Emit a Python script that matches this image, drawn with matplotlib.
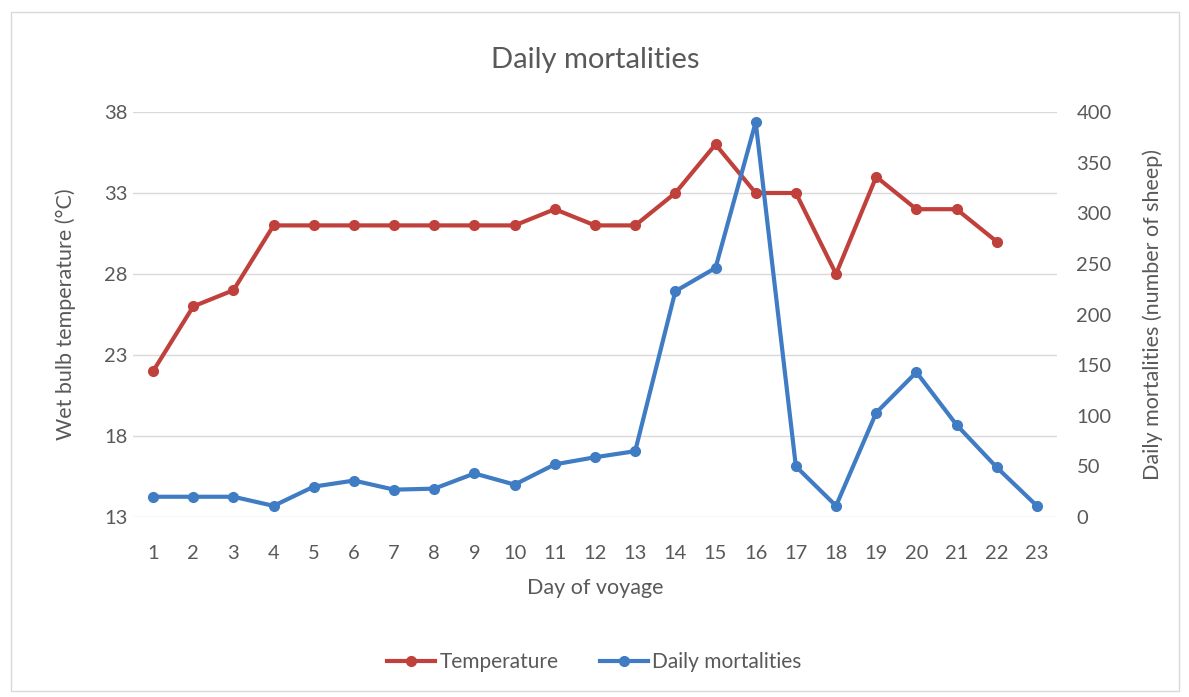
import matplotlib.pyplot as plt
from matplotlib.patches import Rectangle

plt.rcParams['font.family'] = ['Lato', 'DejaVu Sans']

days = list(range(1, 24))
temperature = [22, 26, 27, 31, 31, 31, 31, 31, 31, 31, 32, 31, 31, 33, 36, 33, 33, 28, 34, 32, 32, 30, None]
mortalities = [20, 20, 20, 11, 30, 36, 27, 28, 43, 32, 52, 59, 65, 223, 246, 390, 50, 11, 103, 143, 91, 49, 11]

temp_ticks = [13, 18, 23, 28, 33, 38]
mort_ticks = [0, 50, 100, 150, 200, 250, 300, 350, 400]

red = '#c0403c'
blue = '#3f7cc4'
grey_text = '#595959'

fig = plt.figure(figsize=(11.89, 6.97), dpi=100)
fig.patches.append(Rectangle((0.009, 0.008), 0.983, 0.975, transform=fig.transFigure,
                             fill=False, edgecolor='#d9d9d9', linewidth=1))

# axes box in pixel units: x 133..1057, y 112..517 (from top)
ax = fig.add_axes([133 / 1189, 1 - 517 / 697, 924 / 1189, 405 / 697])
ax2 = ax.twinx()

t_days = [d for d, t in zip(days, temperature) if t is not None]
t_vals = [t for t in temperature if t is not None]
l1, = ax.plot(t_days, t_vals, color=red, linewidth=3, marker='o', markersize=7, label='Temperature', zorder=3)
l2, = ax2.plot(days, mortalities, color=blue, linewidth=3, marker='o', markersize=7, label='Daily mortalities', zorder=3)

ax.set_xlim(0.5, 23.5)
ax.set_ylim(13, 38)
ax.set_yticks(temp_ticks)
ax2.set_ylim(0, 400)
ax2.set_yticks(mort_ticks)
ax.set_xticks(days)

ax.grid(axis='y', color='#d9d9d9', linewidth=1)
ax.set_axisbelow(True)
for a in (ax, ax2):
    for s in a.spines.values():
        s.set_visible(False)
    a.tick_params(length=0, labelsize=14.5, colors=grey_text)
ax.tick_params(axis='x', pad=20)
ax.tick_params(axis='y', pad=4)
ax2.tick_params(axis='y', pad=14)

ax.set_xlabel('Day of voyage', fontsize=15.5, color=grey_text, labelpad=12)
ax.set_ylabel('Wet bulb temperature (°C)', fontsize=15.5, color=grey_text, labelpad=20)
ax2.set_ylabel('Daily mortalities (number of sheep)', fontsize=15.5, color=grey_text, labelpad=22)
ax.set_title('Daily mortalities', fontsize=21, color=grey_text, pad=32)

fig.legend(handles=[l1, l2], loc='center', bbox_to_anchor=(0.5, 1 - 662 / 697), ncol=2,
           frameon=False, fontsize=15, labelcolor=grey_text, handlelength=2.3,
           handletextpad=0.2, columnspacing=2.0)

fig.savefig('out.png', dpi=100)
